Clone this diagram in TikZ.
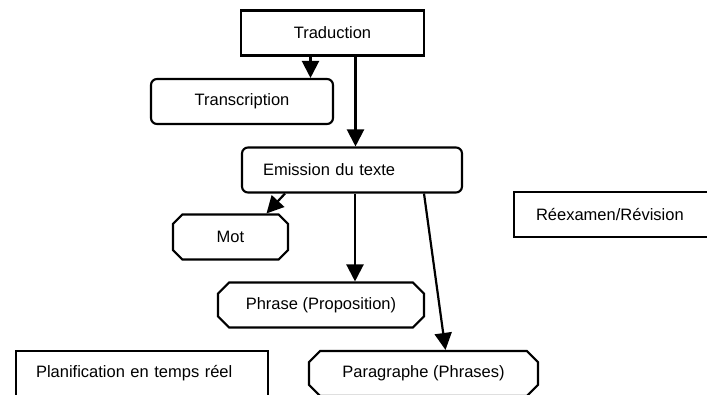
\documentclass[tikz,border=0pt]{standalone}
\usepackage{fontspec}
\setmainfont{Liberation Sans}
\usepackage{tikz}
\usetikzlibrary{arrows.meta}
\usetikzlibrary{shapes.misc,positioning}

\begin{document}
\begin{tikzpicture}[x=1pt,y=-1pt]
  \tikzset{box/.style = {shape=rectangle,draw,line width=2.1pt,minimum height=45pt,inner sep=0pt,font=\fontsize{16.5}{19}\selectfont}}
  \tikzset{rbox/.style = {box,rounded corners=6pt}}
  \tikzset{obox/.style = {box,chamfered rectangle,chamfered rectangle xsep=11pt}}
  \tikzset{lbox/.style = {box,align=left,inner xsep=21pt}}
  \tikzset{edge/.style = {line width=2.2pt,-{Triangle[width=17pt,length=17pt]}}}

  \clip (0,0) rectangle (707,394);

	\node[box,minimum width=183pt] (trad) at (332.5,33) {Traduction};
	\node[rbox,minimum width=182pt] (transc) at (242,101.5) {Transcription};
	\node[rbox,lbox,text width=178pt] (emis) at (352,170) {Emission du texte};
	\node[obox,minimum width=115pt] (mot) at (230.5,237) {Mot};
	\node[obox,minimum width=206pt] (phrase) at (321,305) {Phrase (Proposition)};
	\node[obox,minimum width=229pt] (para) at (423.5,373.5) {Paragraphe (Phrases)};
	\node[lbox,text width=200pt,inner xsep=22pt,anchor=west] (revis) at (513,214.5) {Réexamen/Révision};
	\node[lbox,text width=212pt,inner xsep=20pt,anchor=west] (plan) at (15,373.5) {Planification en temps réel};

	\draw[edge] ([xshift=-22pt]trad.south) -- ([xshift=-22pt]trad.south |- transc.north);
	\draw[edge] ([xshift=23pt]trad.south) -- ([xshift=23pt]trad.south |- emis.north);
	\draw[edge] ([xshift=-67pt]emis.south) -- ([xshift=36pt]mot.north);
	\draw[edge] ([xshift=3pt]emis.south) -- ([xshift=3pt]emis.south |- phrase.north);
	\draw[edge] ([xshift=72pt]emis.south) -- ([xshift=22pt]para.north);

\end{tikzpicture}
\end{document}
